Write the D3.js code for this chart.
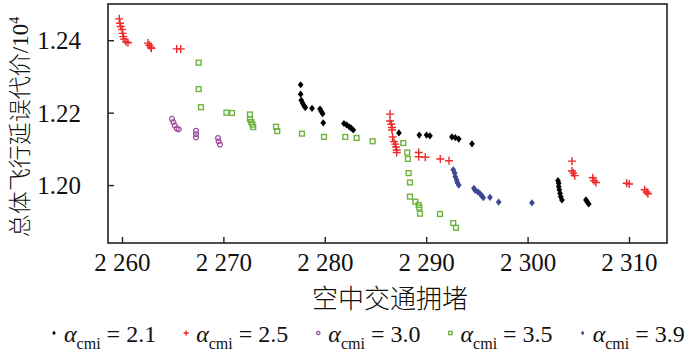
<!DOCTYPE html>
<html><head><meta charset="utf-8">
<script src="https://cdn.jsdelivr.net/npm/d3@7"></script>
<style>body{margin:0;background:#fff}svg{display:block}
.sf{font-family:"Liberation Serif","Times New Roman",Times,"DejaVu Serif",serif}
.cj{font-family:"Noto Sans CJK SC","Noto Sans CJK JP",sans-serif;font-weight:300}
</style>
</head><body><svg id="c" width="700" height="360"></svg>
<script>
const xTicks = [2260, 2270, 2280, 2290, 2300, 2310];
const yTicks = [1.20, 1.22, 1.24];
const alphaLabels = ["2.1", "2.5", "3.0", "3.5", "3.9"];
const xTitle = "空中交通拥堵";
const yTitle = "总体飞行延误代价/10";

const s21 = [[2277.62,1.2277],[2277.62,1.2251],[2277.68,1.2234],[2277.82,1.2226],[2277.95,1.2219],[2278.08,1.2214],[2278.74,1.2212],[2279.53,1.2210],[2279.66,1.2203],[2279.79,1.2197],[2279.85,1.2172],[2281.89,1.2170],[2282.16,1.2166],[2282.41,1.2161],[2282.61,1.2157],[2282.81,1.2152],[2287.31,1.2144],[2289.32,1.2138],[2290.04,1.2138],[2290.37,1.2136],[2292.54,1.2133],[2292.87,1.2131],[2293.21,1.2127],[2294.52,1.2114],[2303.0,1.2012],[2303.07,1.2005],[2303.07,1.1996],[2303.13,1.1987],[2303.2,1.1977],[2303.27,1.1968],[2303.39,1.1959],[2305.76,1.1959],[2305.89,1.1953],[2306.03,1.1948]];
const s25 = [[2259.73,1.2459],[2259.80,1.2447],[2259.87,1.2438],[2260.0,1.2430],[2260.07,1.2419],[2260.13,1.2410],[2260.2,1.2403],[2260.39,1.2396],[2260.59,1.2393],[2262.56,1.2392],[2262.69,1.2386],[2262.83,1.2381],[2262.89,1.2378],[2265.39,1.2376],[2265.79,1.2376],[2286.43,1.2196],[2286.43,1.2177],[2286.56,1.2168],[2286.63,1.2159],[2286.63,1.2152],[2286.69,1.2133],[2286.82,1.2120],[2286.95,1.2113],[2287.02,1.2105],[2287.09,1.2097],[2287.09,1.2090],[2289.26,1.2090],[2289.26,1.2078],[2289.91,1.2077],[2291.39,1.2072],[2292.25,1.2067],[2304.38,1.2066],[2304.38,1.2039],[2304.51,1.2033],[2304.65,1.2026],[2306.42,1.2020],[2306.55,1.2012],[2306.75,1.2007],[2309.77,1.2005],[2310.02,1.2003],[2311.55,1.1987],[2311.74,1.1981],[2311.87,1.1976]];
const s30 = [[2264.93,1.2183],[2265.06,1.2174],[2265.20,1.2165],[2265.40,1.2156],[2265.59,1.2154],[2267.30,1.2150],[2267.30,1.2141],[2267.30,1.2132],[2269.47,1.2130],[2269.53,1.2121],[2269.66,1.2112]];
const s35 = [[2267.56,1.2338],[2267.56,1.2265],[2267.79,1.2215],[2270.30,1.2200],[2270.85,1.2199],[2272.62,1.2195],[2272.62,1.2182],[2272.75,1.2174],[2272.87,1.2167],[2272.94,1.2160],[2275.19,1.2161],[2275.31,1.2149],[2277.75,1.2142],[2279.92,1.2133],[2282.02,1.2133],[2283.14,1.2130],[2284.72,1.2121],[2287.74,1.2116],[2288.13,1.2090],[2288.2,1.2072],[2288.27,1.2033],[2288.40,1.2007],[2288.40,1.1968],[2288.93,1.1954],[2289.26,1.1945],[2289.32,1.1938],[2289.39,1.1921],[2291.36,1.1920],[2292.67,1.1895],[2292.94,1.1882]];
const s39 = [[2292.67,1.2042],[2292.81,1.2033],[2292.87,1.2023],[2293.01,1.2014],[2293.07,1.2007],[2293.21,1.2000],[2294.71,1.1991],[2294.84,1.1985],[2295.11,1.1981],[2295.31,1.1976],[2295.50,1.1970],[2295.63,1.1965],[2296.29,1.1966],[2297.15,1.1953],[2300.43,1.1951]];

const series = [
  {data:s21, color:"#000000", shape:"diamond"},
  {data:s25, color:"#ee2a2a", shape:"plus"},
  {data:s30, color:"#a0509f", shape:"circle"},
  {data:s35, color:"#6cb33f", shape:"square"},
  {data:s39, color:"#3c4896", shape:"diamond"}
];

const svg = d3.select("#c");
const L=108, R=667, T=4, B=243;
const x = d3.scaleLinear().domain([2258.62, 2313.75]).range([L, R]);
const y = d3.scaleLinear().domain([1.184, 1.2500]).range([B, T]);

function drawMark(g, shape, color, sz){
  if(shape==="diamond"){
    g.append("path").attr("d", `M0,${-sz}L${sz*0.8},0L0,${sz}L${-sz*0.8},0Z`).attr("fill",color);
  } else if(shape==="plus"){
    g.append("path").attr("d", `M${-sz},0H${sz}M0,${-sz}V${sz}`).attr("stroke",color).attr("stroke-width",1.4).attr("fill","none");
  } else if(shape==="circle"){
    g.append("circle").attr("r", sz*0.75).attr("fill","none").attr("stroke",color).attr("stroke-width",1.3);
  } else {
    g.append("rect").attr("x",-sz*0.75).attr("y",-sz*0.75).attr("width",sz*1.5).attr("height",sz*1.5).attr("fill","none").attr("stroke",color).attr("stroke-width",1.4);
  }
}

series.forEach(s=>{
  s.data.forEach(d=>{
    const g = svg.append("g").attr("transform",`translate(${x(d[0])},${y(d[1])})`);
    drawMark(g, s.shape, s.color, s.shape==="plus"?4:(s.shape==="diamond"?3.6:3.2));
  });
});

svg.append("rect").attr("x",L).attr("y",T).attr("width",R-L).attr("height",B-T)
  .attr("fill","none").attr("stroke","#222").attr("stroke-width",1.6);

const xAxis = d3.axisBottom(x).tickValues(xTicks).tickSizeInner(-6).tickSizeOuter(0)
  .tickFormat(d=>{const s=String(d);return s[0]+" "+s.slice(1);});
const gx = svg.append("g").attr("transform",`translate(0,${B})`).call(xAxis).attr("font-family",null);
gx.select(".domain").remove();
gx.selectAll(".tick line").attr("stroke","#222").attr("stroke-width",1.4);
gx.selectAll(".tick text").attr("class","sf").attr("font-size",25).attr("fill","#111").attr("dy","0").attr("y",28);

const yAxis = d3.axisLeft(y).tickValues(yTicks).tickSizeInner(-6).tickSizeOuter(0).tickFormat(d3.format(".2f"));
const gy = svg.append("g").attr("transform",`translate(${L},0)`).call(yAxis).attr("font-family",null);
gy.select(".domain").remove();
gy.selectAll(".tick line").attr("stroke","#222").attr("stroke-width",1.4);
gy.selectAll(".tick text").attr("class","sf").attr("font-size",25).attr("fill","#111").attr("x",-27).attr("dy","0.34em");

svg.append("text").attr("class","cj").attr("x",390).attr("y",308).attr("text-anchor","middle")
  .attr("font-size",26).attr("fill","#111").text(xTitle);
const yt = svg.append("text").attr("transform","translate(28,127) rotate(-90)").attr("text-anchor","middle")
  .attr("font-size",23).attr("fill","#111");
yt.append("tspan").attr("class","cj").text(yTitle.slice(0,8));
yt.append("tspan").attr("class","sf").text(yTitle.slice(8));
yt.append("tspan").attr("class","sf").attr("dy",-9).attr("font-size",14).text("4");

let lx = 54;
const ly = 342;
series.forEach((s,i)=>{
  const g = svg.append("g").attr("transform",`translate(${lx},${ly-9})`);
  drawMark(g, s.shape, s.color, s.shape==="plus"?2.6:2.2);
  const t = svg.append("text").attr("class","sf").attr("x",lx+10).attr("y",ly).attr("font-size",24).attr("fill","#111");
  t.append("tspan").attr("font-style","italic").text("α");
  t.append("tspan").attr("font-size",16).attr("dy",7).text("cmi");
  t.append("tspan").attr("dy",-7).text(" = "+alphaLabels[i]);
  const w = t.node().getComputedTextLength();
  lx += 10 + w + 30;
});
</script></body></html>
